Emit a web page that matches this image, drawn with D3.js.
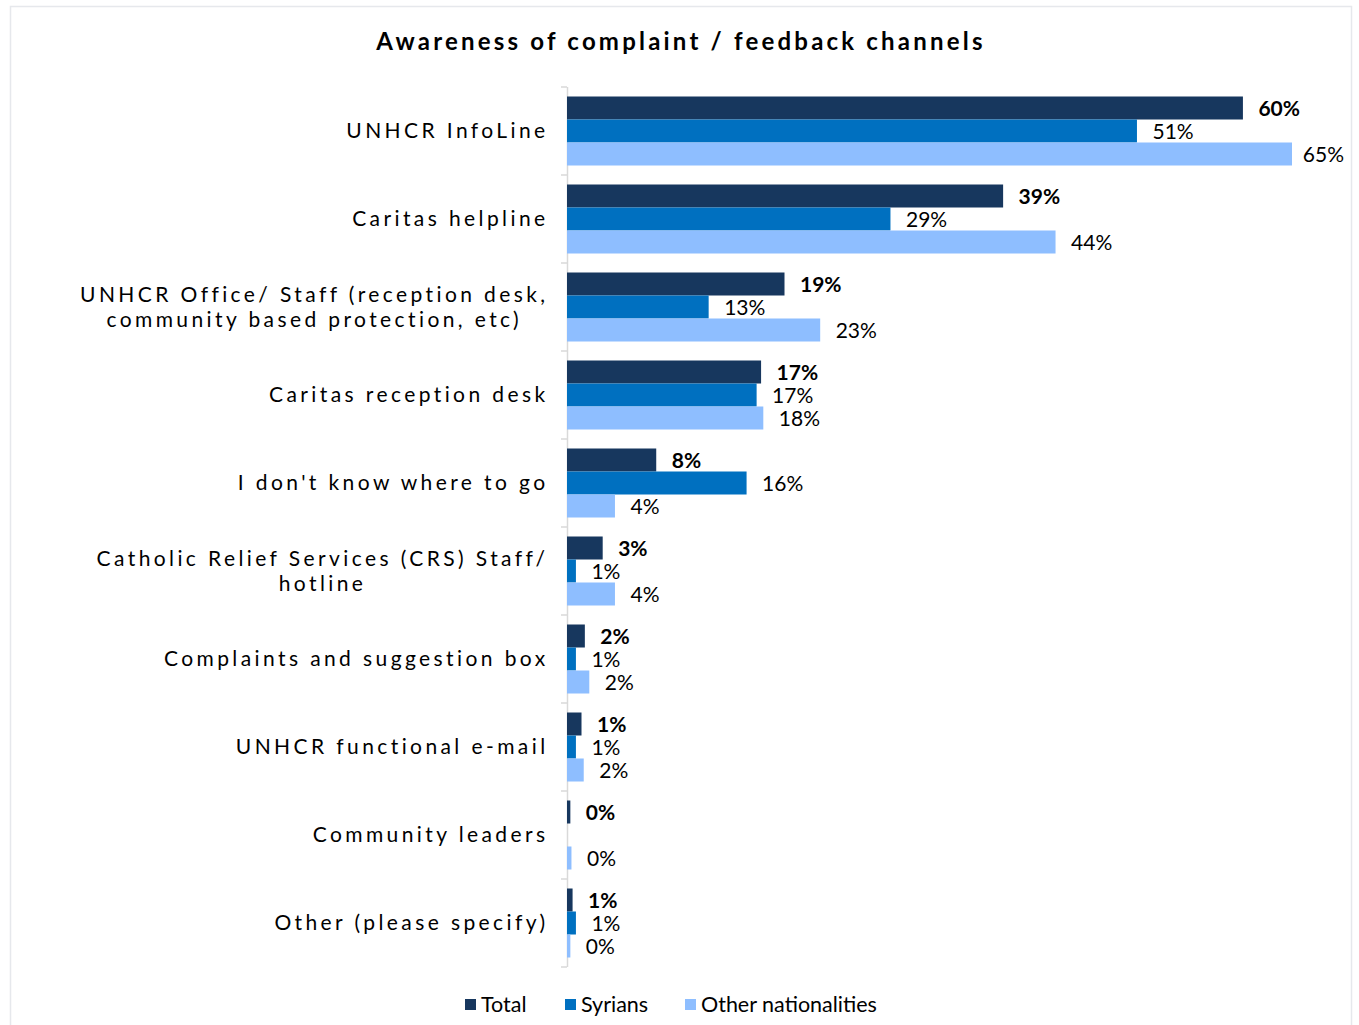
<!DOCTYPE html>
<html><head><meta charset="utf-8">
<script src="https://cdn.jsdelivr.net/npm/d3@7"></script>
<style>
body{margin:0;background:#fff;}
text{font-family:Lato,"Open Sans",sans-serif;}
</style></head>
<body><svg id="c" width="1359" height="1025"></svg>
<script>
const categories = [
  ["UNHCR InfoLine"],
  ["Caritas helpline"],
  ["UNHCR Office/ Staff (reception desk,","community based protection, etc)"],
  ["Caritas reception desk"],
  ["I don't know where to go"],
  ["Catholic Relief Services (CRS) Staff/","hotline"],
  ["Complaints and suggestion box"],
  ["UNHCR functional e-mail"],
  ["Community leaders"],
  ["Other (please specify)"]
];
const seriesNames = ["Total","Syrians","Other nationalities"];
const totalValues  = [60.6, 39.1, 19.5, 17.4, 8.0, 3.2, 1.6, 1.3, 0.3, 0.5];
const syrianValues = [51.1, 29.0, 12.7, 17.0, 16.1, 0.8, 0.8, 0.8, null, 0.8];
const otherValues  = [65.0, 43.8, 22.7, 17.6, 4.3, 4.3, 2.0, 1.5, 0.4, 0.3];
const totalLabels  = ["60%","39%","19%","17%","8%","3%","2%","1%","0%","1%"];
const syrianLabels = ["51%","29%","13%","17%","16%","1%","1%","1%","","1%"];
const otherLabels  = ["65%","44%","23%","18%","4%","4%","2%","2%","0%","0%"];
const colors = ["#17375E","#0070C0","#8EBEFF"];

const svg = d3.select("#c");
svg.append("rect").attr("x",10.5).attr("y",6.5).attr("width",1341).attr("height",1040)
  .attr("fill","#fff").attr("stroke","#E6E8EC").attr("stroke-width",1.5);

svg.append("text").attr("x",681).attr("y",50).attr("text-anchor","middle")
  .attr("font-size",24).attr("font-weight","bold").attr("letter-spacing",3.2)
  .attr("fill","#000").text("Awareness of complaint / feedback channels");

const x = d3.scaleLinear().domain([0,65]).range([567,1292]);
const y = d3.scaleBand().domain(d3.range(categories.length)).range([87,967]).paddingInner(0).paddingOuter(0);
const sub = d3.scaleBand().domain([0,1,2]).range([9.5, 88-9.5]);

const seriesVals = [totalValues, syrianValues, otherValues];
const seriesLabs = [totalLabels, syrianLabels, otherLabels];

// axis
svg.append("line").attr("x1",567.5).attr("x2",567.5).attr("y1",87).attr("y2",967).attr("stroke","#D9D9D9").attr("stroke-width",1.5);
d3.range(categories.length+1).forEach(i=>{
  const yy = i<categories.length ? y(i) : y(categories.length-1)+y.bandwidth();
  svg.append("line").attr("x1",561).attr("x2",567).attr("y1",yy).attr("y2",yy).attr("stroke","#D9D9D9").attr("stroke-width",1.5);
});

seriesVals.forEach((vals,s)=>{
  const g = svg.append("g");
  vals.forEach((v,i)=>{
    if(v===null) return;
    const y0 = y(i)+sub(s);
    g.append("rect").attr("x",x(0)).attr("y",y0).attr("width",x(v)-x(0)).attr("height",sub.bandwidth()).attr("fill",colors[s]);
    const lab = seriesLabs[s][i];
    if(lab){
      const t = g.append("text").attr("x",x(v)+15.5).attr("y",y0+sub.bandwidth()/2).attr("dy","0.36em")
        .attr("font-size",21).attr("font-weight",s===0?"bold":"normal").attr("fill","#000").text(lab);
      const w = t.node().getComputedTextLength();
      if(x(v)+15.5+w > 1344) t.attr("x",1344-w);
    }
  });
});

// category labels
categories.forEach((lines,i)=>{
  const cy = y(i)+y.bandwidth()/2;
  const lh = 25;
  const g = svg.append("g");
  const texts = lines.map((ln,k)=> g.append("text").attr("y",cy + (k-(lines.length-1)/2)*lh).attr("dy","0.35em")
     .attr("font-size",21).attr("letter-spacing",3.4).attr("fill","#000").attr("text-anchor","middle").text(ln));
  const widths = texts.map(t=>t.node().getComputedTextLength());
  const maxW = d3.max(widths);
  const cx = 548.5 - maxW/2;
  texts.forEach(t=>t.attr("x",cx));
});

// legend
const legX = [465,565,685];
seriesNames.forEach((n,s)=>{
  svg.append("rect").attr("x",legX[s]).attr("y",999).attr("width",11).attr("height",11).attr("fill",colors[s]);
  svg.append("text").attr("x",legX[s]+16).attr("y",1012).attr("font-size",21.5).attr("fill","#000").text(n);
});
</script></body></html>
